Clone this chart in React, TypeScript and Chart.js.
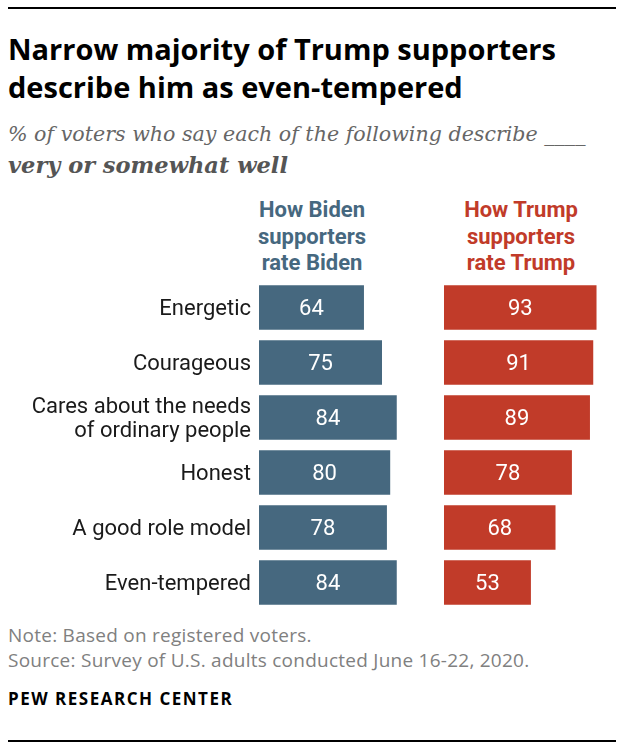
import { useEffect, useRef } from "react"
import { Chart, registerables } from "chart.js"

Chart.register(...registerables)

// traits (y categories), multi-line labels as arrays
const traits: (string | string[])[] = [
  "Energetic",
  "Courageous",
  ["Cares about the needs", "of ordinary people"],
  "Honest",
  "A good role model",
  "Even-tempered",
]
const bidenValues = [64, 75, 84, 80, 78, 84]
const trumpValues = [93, 91, 89, 78, 68, 53]

const BLUE = "#46687f"
const RED = "#c13b29"
const FONT = "Roboto"
const WIDE = "'Open Sans'"

// white value inside each bar
const valueLabels = {
  id: "valueLabels",
  afterDatasetsDraw(chart: any) {
    const { ctx } = chart
    const meta = chart.getDatasetMeta(0)
    const values = chart.data.datasets[0].data
    ctx.save()
    ctx.font = `22px ${FONT}`
    ctx.fillStyle = "#fff"
    ctx.textAlign = "center"
    ctx.textBaseline = "middle"
    meta.data.forEach((bar: any, i: number) => {
      const { x, y, base } = bar.getProps(["x", "y", "base"], true)
      ctx.fillText(String(values[i]), (x + base) / 2, y + 2)
    })
    ctx.restore()
  },
}

function makeChart(canvas: HTMLCanvasElement, values: number[], color: string, withLabels: boolean) {
  return new Chart(canvas, {
    type: "bar",
    data: {
      labels: traits,
      datasets: [
        {
          data: values,
          backgroundColor: color,
          borderWidth: 0,
          barPercentage: 0.81,
          categoryPercentage: 1,
        },
      ],
    },
    options: {
      indexAxis: "y",
      responsive: false,
      animation: false,
      layout: {
        padding: withLabels ? { left: 0, right: 7, top: 0, bottom: 0 } : { left: 4, right: 10, top: 0, bottom: 0 },
      },
      plugins: {
        legend: { display: false },
        tooltip: { enabled: false },
      },
      scales: {
        x: { min: 0, max: 100, display: false },
        y: {
          display: withLabels,
          grid: { display: false, drawTicks: false },
          border: { display: false },
          ticks: {
            color: "#1a1a1a",
            padding: 8,
            labelOffset: 2,
            font: { family: FONT, size: 22, lineHeight: 1.1 },
          },
          afterFit(scale: any) {
            if (withLabels) scale.width = 259
            // no extra room for the first/last label
            scale.paddingTop = 0
            scale.paddingBottom = 0
          },
        },
      },
    },
    plugins: [valueLabels],
  })
}

export default function App() {
  const bidenRef = useRef<HTMLCanvasElement>(null)
  const trumpRef = useRef<HTMLCanvasElement>(null)

  useEffect(() => {
    if (!bidenRef.current || !trumpRef.current) return
    const left = makeChart(bidenRef.current, bidenValues, BLUE, true)
    const right = makeChart(trumpRef.current, trumpValues, RED, false)
    return () => {
      left.destroy()
      right.destroy()
    }
  }, [])

  const abs = (s: any) => ({ position: "absolute" as const, ...s })

  return (
    <div style={abs({ left: 0, top: 0, width: 618, height: 750, background: "#fff", fontFamily: FONT, overflow: "hidden" })}>
      <div style={abs({ left: 8, top: 7, width: 608, height: 2, background: "#000" })} />
      <div style={abs({ left: 8, top: 30, fontSize: 29, lineHeight: "38px", fontFamily: WIDE, fontWeight: 700, color: "#000", whiteSpace: "nowrap" })}>
        Narrow majority of Trump supporters
        <br />
        describe him as even-tempered
      </div>
      <div style={abs({ left: 8, top: 119, fontSize: 20.6, lineHeight: "31px", fontFamily: "DejaVu Serif", fontStyle: "italic", color: "#666", whiteSpace: "nowrap" })}>
        % of voters who say each of the following describe ____
        <br />
        <b style={{ color: "#555", fontSize: 22.5 }}>very or somewhat well</b>
      </div>
      <div style={abs({ left: 232, top: 197, width: 160, textAlign: "center", fontSize: 22, lineHeight: "26.5px", fontWeight: 700, color: BLUE })}>
        How Biden
        <br />
        supporters
        <br />
        rate Biden
      </div>
      <div style={abs({ left: 441, top: 197, width: 160, textAlign: "center", fontSize: 22, lineHeight: "26.5px", fontWeight: 700, color: RED })}>
        How Trump
        <br />
        supporters
        <br />
        rate Trump
      </div>
      <canvas ref={bidenRef} width={430} height={330} style={abs({ left: 0, top: 280, width: 430, height: 330 })} />
      <canvas ref={trumpRef} width={178} height={330} style={abs({ left: 440, top: 280, width: 178, height: 330 })} />
      <div style={abs({ left: 8, top: 623, fontSize: 19, lineHeight: "25px", fontFamily: WIDE, letterSpacing: 0.25, color: "#808080", whiteSpace: "nowrap" })}>
        Note: Based on registered voters.
        <br />
        Source: Survey of U.S. adults conducted June 16-22, 2020.
      </div>
      <div style={abs({ left: 8, top: 687, fontSize: 17, lineHeight: "24px", fontFamily: WIDE, fontWeight: 700, letterSpacing: 1.5, color: "#000", whiteSpace: "nowrap" })}>
        PEW RESEARCH CENTER
      </div>
      <div style={abs({ left: 8, top: 740, width: 608, height: 2, background: "#000" })} />
    </div>
  )
}
